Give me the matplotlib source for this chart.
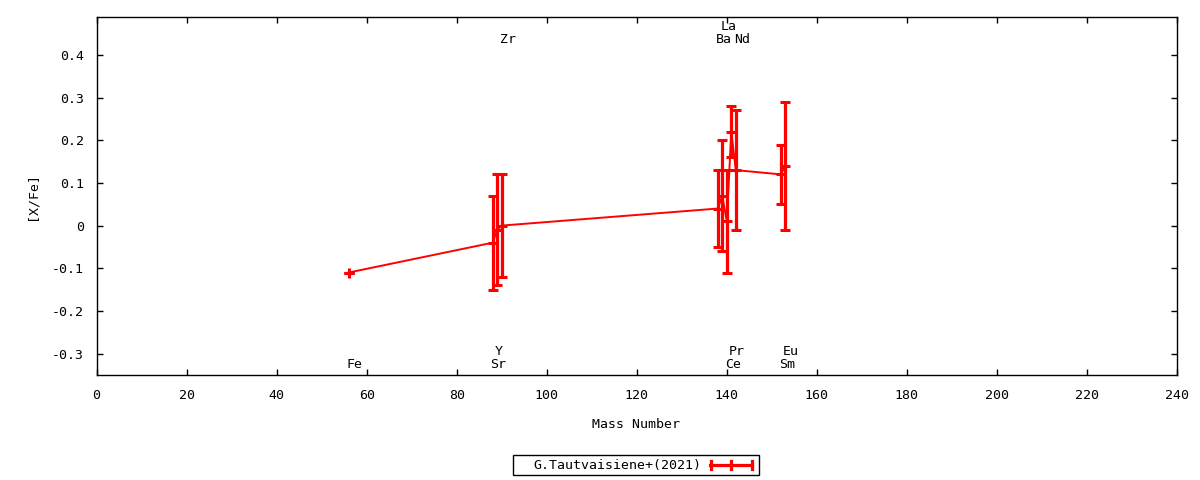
import matplotlib
matplotlib.use("Agg")
import matplotlib.pyplot as plt
from matplotlib.lines import Line2D
from matplotlib.patches import Rectangle

# ---- data ----
elements = ['Fe', 'Sr', 'Y', 'Zr', 'Ba', 'La', 'Ce', 'Pr', 'Nd', 'Sm', 'Eu']
masses = [56, 88, 89, 90, 138, 139, 140, 141, 142, 152, 153]
values = [-0.11, -0.04, -0.01, 0.00, 0.04, 0.07, 0.01, 0.22, 0.13, 0.12, 0.14]
errors = [0.0, 0.11, 0.13, 0.12, 0.09, 0.13, 0.12, 0.06, 0.14, 0.07, 0.15]
series_label = 'G.Tautvaisiene+(2021)'
xticks = list(range(0, 241, 20))
yticks = [-0.3, -0.2, -0.1, 0, 0.1, 0.2, 0.3, 0.4]
ytick_labels = ['-0.3', '-0.2', '-0.1', '0', '0.1', '0.2', '0.3', '0.4']

# label rows (element name -> row)
label_row = {'Fe': 'low', 'Sr': 'low', 'Ce': 'low', 'Sm': 'low',
             'Y': 'low2', 'Pr': 'low2', 'Eu': 'low2',
             'Zr': 'up', 'Ba': 'up', 'Nd': 'up',
             'La': 'up2'}
row_y = {'low': -0.334, 'low2': -0.302, 'up': 0.428, 'up2': 0.458}

FONT = 'DejaVu Sans Mono'
FS = 9.5
RED = '#ff0000'

plt.rcParams['font.family'] = [FONT, 'DejaVu Sans']
fig = plt.figure(figsize=(12, 4.8), dpi=100)
ax = fig.add_axes([96.5 / 1200, 1 - 375 / 480, (1177 - 96.5) / 1200, (375 - 17.3) / 480])

ax.errorbar(masses, values, yerr=errors, color=RED, lw=1.4,
            elinewidth=2.3, capsize=3.5, capthick=2.3,
            marker='+', ms=7, mew=2.2, zorder=3)

for el, m in zip(elements, masses):
    ax.annotate(el, xy=(m, row_y[label_row[el]]), xytext=(-1.5, 0),
                textcoords='offset points', ha='left', va='baseline',
                fontsize=FS, family=FONT, color='black')

ax.set_xlim(0, 240)
ax.set_ylim(-0.35, 0.488)
ax.set_xticks(xticks)
ax.set_xticklabels([str(t) for t in xticks])
ax.set_yticks(yticks)
ax.set_yticklabels(ytick_labels)
ax.tick_params(direction='in', length=4, width=1, top=True, right=True,
               labelsize=FS, pad=9)
ax.tick_params(axis='x', pad=10)
for lab in ax.get_xticklabels() + ax.get_yticklabels():
    lab.set_family(FONT)
for s in ax.spines.values():
    s.set_linewidth(1)

fig.text(636 / 1200, 1 - 425 / 480, 'Mass Number', ha='center', va='center',
         fontsize=FS, family=FONT)
fig.text(32 / 1200, 1 - 196 / 480, '[X/Fe]', ha='center', va='center',
         rotation=90, fontsize=FS, family=FONT)

# legend (gnuplot style)
fig.patches.append(Rectangle((513 / 1200, 1 - 475 / 480), (759 - 513) / 1200, 20 / 480,
                             transform=fig.transFigure, fill=False, lw=1, ec='black'))
fig.text(701 / 1200, 1 - 465 / 480, series_label, ha='right', va='center',
         fontsize=FS, family=FONT)
ly = 1 - 465 / 480
fig.lines.append(Line2D([710 / 1200, 752 / 1200], [ly, ly], transform=fig.transFigure,
                        color=RED, lw=2.3))
for xp in (710.5, 751.5, 731):
    fig.lines.append(Line2D([xp / 1200, xp / 1200], [1 - 469 / 480, 1 - 461 / 480],
                            transform=fig.transFigure, color=RED, lw=2.3))

fig.savefig('out.png', dpi=100)
